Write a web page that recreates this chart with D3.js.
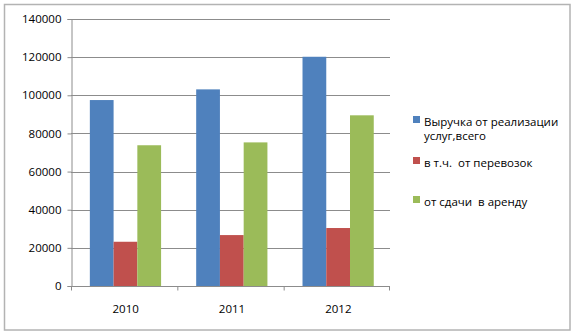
<!DOCTYPE html>
<html>
<head>
<meta charset="utf-8">
<script src="https://cdn.jsdelivr.net/npm/d3@7"></script>
<style>
  html, body { margin: 0; padding: 0; background: #fff; }
  svg { display: block; font-family: "Open Sans", "DejaVu Sans", sans-serif; }
</style>
</head>
<body>
<svg id="chart" width="576" height="336"></svg>
<script>
// Revenue by year, in thousand roubles
const years = ["2010", "2011", "2012"];
const seriesNames = [
  ["Выручка от реализации", "услуг,всего"],
  ["в т.ч.  от перевозок"],
  ["от сдачи  в аренду"]
];
const totalRevenue = [97500, 103100, 120200];
const transportRevenue = [23200, 26700, 30400];
const rentRevenue = [73800, 75300, 89500];
const yTicks = [0, 20000, 40000, 60000, 80000, 100000, 120000, 140000];
const colors = ["#4f81bd", "#c0504d", "#9bbb59"];

const series = [totalRevenue, transportRevenue, rentRevenue];

const svg = d3.select("#chart");

// outer chart frame
svg.append("rect")
  .attr("x", 4.5).attr("y", 4.5)
  .attr("width", 565.5).attr("height", 325.5)
  .attr("fill", "#fff")
  .attr("stroke", "#b3b3b3")
  .attr("stroke-width", 1.5);

const plot = { left: 71, right: 390, top: 19, bottom: 286 };

// bar groups sit slightly right of the category centres
const x = d3.scaleBand()
  .domain(years)
  .range([plot.left + 1.3, plot.right + 1.3])
  .paddingInner(0.33)
  .paddingOuter(0.165);

const xOuter = d3.scaleBand().domain(years).range([plot.left, plot.right]);

const xInner = d3.scaleBand()
  .domain(d3.range(series.length))
  .range([0, x.bandwidth()]);

const y = d3.scaleLinear()
  .domain([0, 140000])
  .range([plot.bottom, plot.top]);

// horizontal gridlines
svg.append("g")
  .selectAll("line")
  .data(yTicks.filter(d => d > 0))
  .join("line")
  .attr("x1", plot.left).attr("x2", plot.right)
  .attr("y1", d => Math.round(y(d)) + 0.5)
  .attr("y2", d => Math.round(y(d)) + 0.5)
  .attr("stroke", "#8c8c8c")
  .attr("stroke-width", 1);

// bars
const groups = svg.append("g")
  .selectAll("g")
  .data(years)
  .join("g")
  .attr("transform", d => `translate(${x(d)},0)`);

groups.selectAll("rect")
  .data((yr, i) => series.map((s, k) => ({ k, v: s[i] })))
  .join("rect")
  .attr("x", d => xInner(d.k))
  .attr("width", xInner.bandwidth())
  .attr("y", d => y(d.v))
  .attr("height", d => y(0) - y(d.v))
  .attr("fill", d => colors[d.k]);

// y axis
const yAxis = svg.append("g")
  .attr("transform", `translate(${plot.left + 0.5},0)`)
  .call(d3.axisLeft(y).tickValues(yTicks).tickFormat(d3.format("d")).tickSizeOuter(0).tickSize(4).tickPadding(6));
yAxis.select(".domain").attr("stroke", "#8c8c8c");
yAxis.selectAll(".tick line").attr("stroke", "#8c8c8c");
yAxis.selectAll(".tick text")
  .attr("font-size", 11.5)
  .attr("fill", "#000")
  .style("font-family", "'Open Sans', sans-serif");

// x axis
const xAxisG = svg.append("g")
  .attr("transform", `translate(0,${plot.bottom + 0.5})`);
xAxisG.append("line")
  .attr("x1", plot.left).attr("x2", plot.right)
  .attr("stroke", "#8c8c8c");
xAxisG.selectAll("line.tk")
  .data(years.concat(["end"]))
  .join("line")
  .attr("class", "tk")
  .attr("x1", (d, i) => i < years.length ? xOuter(d) + 0.5 : plot.right - 0.5)
  .attr("x2", (d, i) => i < years.length ? xOuter(d) + 0.5 : plot.right - 0.5)
  .attr("y1", 0).attr("y2", 4)
  .attr("stroke", "#8c8c8c");
xAxisG.selectAll("text")
  .data(years)
  .join("text")
  .attr("x", d => xOuter(d) + xOuter.bandwidth() / 2 + 1.5)
  .attr("y", 26)
  .attr("text-anchor", "middle")
  .attr("font-size", 11.5)
  .attr("fill", "#000")
  .text(d => d);

// legend
const legendTop = [116, 157, 196];
const legend = svg.append("g");
seriesNames.forEach((lines, k) => {
  legend.append("rect")
    .attr("x", 413).attr("y", legendTop[k])
    .attr("width", 7).attr("height", 7)
    .attr("fill", colors[k]);
  lines.forEach((t, j) => {
    legend.append("text")
      .attr("x", 424)
      .attr("y", legendTop[k] + 9.5 + j * 14.5)
      .attr("font-size", 11.5)
      .attr("fill", "#000")
      .attr("xml:space", "preserve")
      .style("white-space", "pre")
      .text(t);
  });
});
</script>
</body>
</html>
